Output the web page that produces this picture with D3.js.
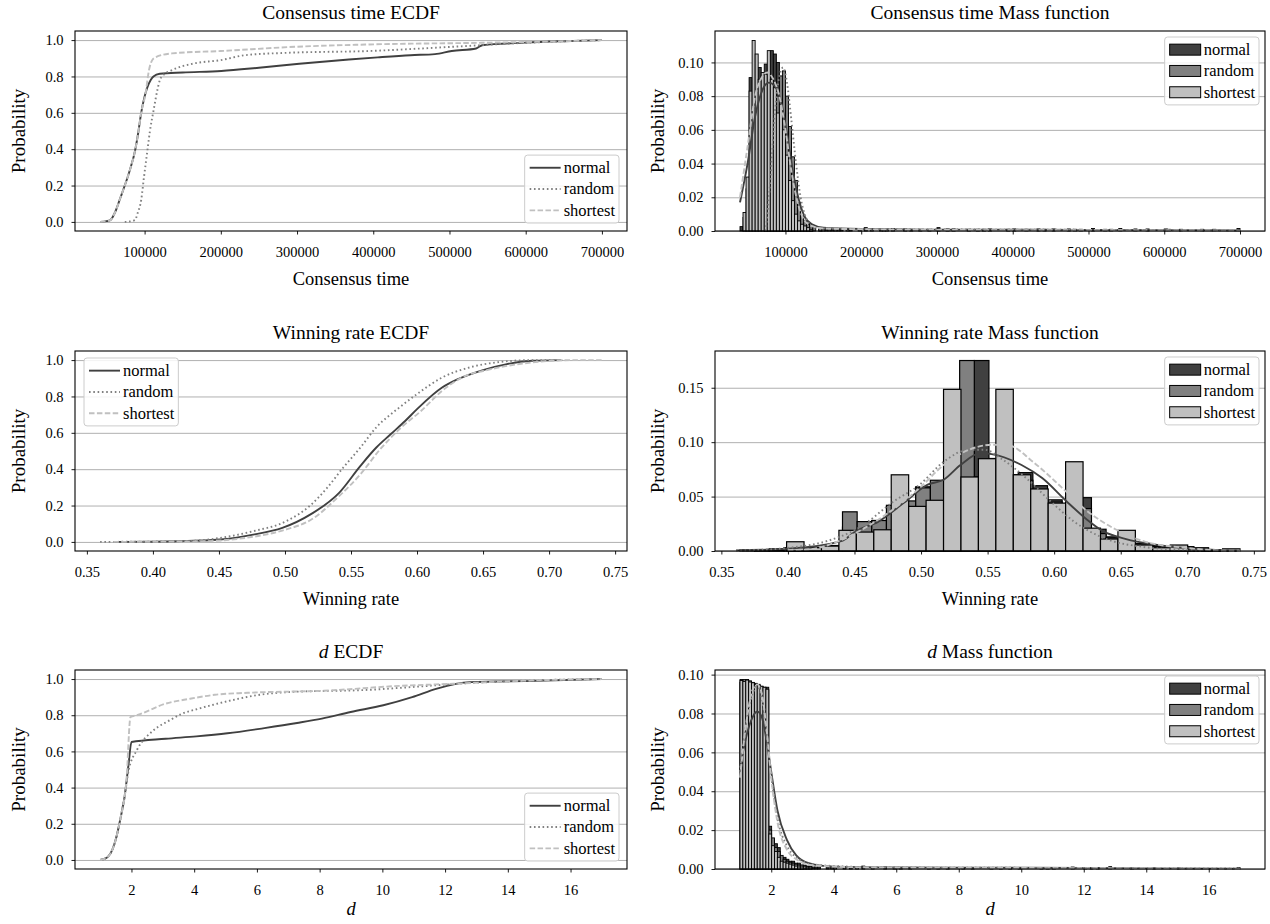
<!DOCTYPE html>
<html>
<head>
<meta charset="utf-8">
<script src="https://cdn.jsdelivr.net/npm/d3@7"></script>
<style>
  body { margin: 0; background: #fff; }
  text { font-family: "Liberation Serif", "Times New Roman", serif; fill: #000; }
</style>
</head>
<body>
<div id="chart"></div>
<script>
// ---- data ----
var seriesNames = ["normal", "random", "shortest"];

// Consensus time ECDF  [time, probability]
var timeEcdfNormal = [[41600,0],[50000,0.004],[55000,0.01],[62000,0.06],[68000,0.13],[74000,0.2],[81000,0.29],[87400,0.39],[92000,0.5],[95500,0.6],[100000,0.69],[103600,0.74],[108000,0.78],[111600,0.8],[120000,0.815],[150000,0.822],[200600,0.83],[250000,0.848],[303000,0.87],[368000,0.893],[406000,0.905],[449000,0.917],[481000,0.923],[503000,0.94],[535000,0.954],[543000,0.972],[599000,0.986],[650000,0.994],[700000,1.0]];
var timeEcdfRandom = [[74000,0],[80000,0.002],[87400,0.01],[91000,0.05],[95500,0.12],[99000,0.24],[103600,0.39],[107000,0.5],[111600,0.61],[117000,0.73],[120000,0.78],[124000,0.805],[136000,0.835],[163000,0.87],[200000,0.89],[232000,0.917],[287000,0.93],[395000,0.94],[503000,0.963],[610000,0.987],[700000,1.0]];
var timeEcdfShortest = [[41600,0],[50000,0.004],[55000,0.01],[62000,0.06],[68000,0.13],[74000,0.2],[81000,0.29],[87400,0.39],[92000,0.5],[95500,0.6],[101000,0.7],[106000,0.84],[110000,0.89],[114000,0.905],[136000,0.927],[200000,0.94],[297000,0.963],[395000,0.976],[555000,0.986],[650000,0.994],[700000,1.0]];

// Winning rate ECDF
var winEcdfNormal = [[0.37,0],[0.42,0.004],[0.451,0.013],[0.476,0.04],[0.498,0.077],[0.52,0.154],[0.541,0.27],[0.557,0.417],[0.569,0.518],[0.58,0.592],[0.591,0.665],[0.60,0.73],[0.619,0.849],[0.631,0.895],[0.65,0.945],[0.668,0.978],[0.687,0.996],[0.709,1.0]];
var winEcdfRandom = [[0.36,0],[0.4235,0.004],[0.451,0.022],[0.476,0.059],[0.501,0.114],[0.52,0.206],[0.532,0.298],[0.544,0.408],[0.557,0.518],[0.569,0.629],[0.585,0.73],[0.60,0.813],[0.619,0.904],[0.64,0.96],[0.662,0.989],[0.687,1.0],[0.71,1.0]];
var winEcdfShortest = [[0.37,0],[0.439,0.004],[0.47,0.022],[0.498,0.0625],[0.52,0.123],[0.541,0.252],[0.557,0.371],[0.572,0.509],[0.588,0.629],[0.603,0.72],[0.619,0.831],[0.634,0.904],[0.656,0.95],[0.687,0.987],[0.718,1.0],[0.74,1.0]];

// d ECDF
var dEcdfNormal = [[1.0,0],[1.1,0.004],[1.25,0.017],[1.4,0.06],[1.52,0.127],[1.65,0.23],[1.78,0.348],[1.91,0.532],[2.0,0.652],[3.09,0.67],[4.07,0.683],[5.06,0.70],[6.24,0.729],[7.28,0.757],[8.07,0.781],[8.99,0.818],[10.03,0.855],[10.95,0.90],[11.74,0.947],[12.79,0.983],[14.88,0.99],[17,1.0]];
var dEcdfRandom = [[1.0,0],[1.1,0.004],[1.25,0.017],[1.4,0.06],[1.52,0.127],[1.65,0.23],[1.78,0.35],[1.91,0.495],[2.17,0.606],[2.7,0.716],[3.22,0.772],[3.61,0.808],[4.14,0.836],[5.18,0.882],[5.97,0.91],[7.0,0.928],[9.64,0.941],[10.95,0.956],[12.79,0.978],[14.88,0.993],[17,1.0]];
var dEcdfShortest = [[1.0,0],[1.1,0.004],[1.25,0.017],[1.4,0.06],[1.52,0.127],[1.65,0.23],[1.84,0.44],[1.97,0.79],[2.17,0.80],[3.09,0.864],[3.87,0.891],[4.66,0.913],[5.71,0.924],[8.33,0.937],[10.29,0.96],[12.26,0.974],[14.88,0.993],[17,1.0]];

// Consensus time mass function: bins of 4000 starting at 40000, plus sparse tail bars [binStart, p]
var timeBinStart = 40000, timeBinWidth = 4000;
var timeHistNormal = [0.0026,0.008,0.025,0.091,0.08,0.085,0.097,0.092,0.099,0.095,0.107,0.105,0.10,0.087,0.084,0.07,0.055,0.03,0.02,0.012,0.008,0.0055,0.0045,0.002];
var timeHistRandom = [0,0,0,0,0,0,0,0,0.001,0.008,0.03,0.055,0.08,0.092,0.095,0.08,0.062,0.044,0.03,0.017,0.009,0.006,0.004,0.003,0.002];
var timeHistShortest = [0,0.011,0.032,0.083,0.113,0.105,0.09,0.094,0.093,0.107,0.09,0.085,0.07,0.075,0.06,0.045,0.03,0.018,0.01,0.006,0.004,0.003,0.002,0.001];
var timeTailNormal = [[144000,0.002],[152000,0.0015],[160000,0.001],[172000,0.0012],[184000,0.001],[204000,0.002],[224000,0.001],[240000,0.0015],[264000,0.001],[300000,0.002],[340000,0.001],[368000,0.0012],[416000,0.001],[452000,0.0012],[480000,0.001],[504000,0.0015],[540000,0.0015],[600000,0.0012],[696000,0.0015]];
var timeTailRandom = [[144000,0.0018],[156000,0.0012],[168000,0.001],[196000,0.0012],[228000,0.001],[256000,0.0012],[288000,0.001],[320000,0.0012],[360000,0.001],[400000,0.0012],[440000,0.001],[472000,0.0012],[520000,0.001],[560000,0.0012],[604000,0.001],[648000,0.001]];
var timeTailShortest = [[148000,0.001],[164000,0.0012],[180000,0.001],[212000,0.0012],[232000,0.001],[276000,0.001],[312000,0.0012],[352000,0.001],[392000,0.001],[432000,0.0012],[488000,0.001],[528000,0.001],[576000,0.0012],[620000,0.001],[664000,0.001]];
var timeKdeNormal = [[40000,0.017],[50000,0.04],[60000,0.068],[70000,0.084],[78000,0.088],[86000,0.086],[95000,0.075],[103000,0.055],[110000,0.035],[118000,0.018],[126000,0.008],[135000,0.004],[150000,0.002],[200000,0.0012],[300000,0.0008],[400000,0.0008],[500000,0.0006],[600000,0.0005],[700000,0.0003]];
var timeKdeRandom = [[74000,0.0],[80000,0.03],[86000,0.07],[92000,0.092],[97000,0.097],[102000,0.088],[108000,0.065],[114000,0.04],[120000,0.02],[127000,0.008],[135000,0.003],[150000,0.0015],[250000,0.001],[400000,0.0008],[550000,0.0006],[700000,0.0003]];
var timeKdeShortest = [[40000,0.02],[50000,0.05],[60000,0.08],[70000,0.092],[76000,0.094],[84000,0.09],[92000,0.08],[100000,0.06],[108000,0.035],[116000,0.017],[124000,0.007],[134000,0.003],[150000,0.0015],[250000,0.0008],[400000,0.0005],[550000,0.0004],[700000,0.0002]];

// Winning rate mass function (normal/random share 0.011 bins from 0.364, shortest 0.0131 bins from 0.399)
var winBinStartNR = 0.364, winBinWidthNR = 0.011;
var winBinStartS = 0.399, winBinWidthS = 0.0131;
var winHistNormal = [0.001,0.001,0.002,0.003,0.002,0.003,0.005,0.022,0.026,0.028,0.035,0.045,0.059,0.055,0.065,0.075,0.175,0.085,0.07,0.072,0.06,0.047,0.042,0.049,0.02,0.013,0.01,0.007,0.005,0.004,0.004,0.003,0.001,0.001];
var winHistRandom = [0,0.001,0.001,0.002,0.003,0.003,0.005,0.036,0.027,0.028,0.042,0.046,0.058,0.065,0.06,0.175,0.068,0.08,0.07,0.065,0.05,0.045,0.04,0.039,0.016,0.012,0.006,0.005,0.004,0.003,0.002,0.001,0.001,0];
var winHistShortest = [0.0085,0.003,0.0045,0.019,0.0174,0.0195,0.070,0.041,0.0466,0.1485,0.068,0.0848,0.1485,0.070,0.057,0.044,0.082,0.021,0.011,0.019,0.0055,0.003,0.0055,0.0015,0.001,0.002];
var winKdeNormal = [[0.361,0.0006],[0.40,0.002],[0.44,0.009],[0.4508,0.018],[0.468,0.027],[0.4868,0.044],[0.505,0.061],[0.517,0.0655],[0.5296,0.079],[0.545,0.09],[0.553,0.089],[0.5755,0.079],[0.591,0.067],[0.609,0.046],[0.6245,0.029],[0.637,0.018],[0.652,0.0116],[0.683,0.0046],[0.713,0.0015],[0.74,0.0003]];
var winKdeRandom = [[0.361,0.0003],[0.401,0.003],[0.429,0.009],[0.453,0.021],[0.48,0.046],[0.499,0.061],[0.517,0.082],[0.536,0.093],[0.548,0.093],[0.56,0.085],[0.579,0.067],[0.597,0.046],[0.615,0.027],[0.637,0.012],[0.667,0.0037],[0.698,0.001],[0.71,0.0005]];
var winKdeShortest = [[0.40,0.0008],[0.416,0.0015],[0.438,0.009],[0.456,0.02],[0.481,0.04],[0.499,0.058],[0.517,0.079],[0.536,0.093],[0.554,0.0976],[0.566,0.097],[0.584,0.082],[0.606,0.058],[0.6245,0.037],[0.646,0.02],[0.667,0.009],[0.698,0.003],[0.722,0.0006],[0.74,0.0002]];

// d mass function: bins of 0.092 starting at 1.0, plus sparse tail bars
var dBinStart = 1.0, dBinWidth = 0.092;
var dHistNormal = [0.0975,0.097,0.0975,0.0965,0.096,0.0955,0.095,0.094,0.0935,0.0935,0.022,0.015,0.013,0.011,0.006,0.006,0.005,0.004,0.004,0.003,0.003,0.002,0.002,0.0015,0.0015,0.001,0.001,0.001];
var dHistRandom = [0.096,0.0975,0.097,0.0968,0.0955,0.095,0.094,0.0935,0.093,0.092,0.02,0.016,0.011,0.009,0.007,0.005,0.004,0.0035,0.003,0.0025,0.002,0.002,0.0015,0.001,0.001];
var dHistShortest = [0.097,0.0965,0.0972,0.0962,0.0958,0.095,0.0945,0.094,0.0935,0.0925,0.018,0.012,0.009,0.006,0.004,0.0035,0.003,0.0025,0.002,0.0015,0.001,0.001];
var dTailNormal = [[3.76,0.001],[4.5,0.0012],[4.9,0.0015],[5.6,0.001],[6.4,0.0008],[7.3,0.0008],[8.1,0.0008],[9.0,0.0008],[9.9,0.0008],[10.8,0.0008],[11.6,0.001],[12.4,0.0008],[12.8,0.0012]];
var dTailRandom = [[3.9,0.001],[4.3,0.001],[5.2,0.0008],[6.1,0.0008],[7.0,0.0008],[8.4,0.0006],[9.6,0.0008],[11.0,0.0006],[12.2,0.0006],[13.5,0.0005],[15.0,0.0005]];
var dTailShortest = [[4.0,0.0008],[4.7,0.001],[5.9,0.0008],[7.6,0.0006],[9.3,0.0006],[10.6,0.0006],[12.0,0.0005],[14.2,0.0005],[16.908,0.0008]];
var dKdeNormal = [[1.0,0.052],[1.2,0.068],[1.4,0.078],[1.55,0.081],[1.7,0.078],[1.85,0.066],[2.0,0.05],[2.2,0.03],[2.5,0.015],[2.8,0.007],[3.2,0.003],[4,0.0012],[6,0.0008],[9,0.0007],[12,0.0006],[14,0.0003],[17,0.0001]];
var dKdeRandom = [[1.0,0.05],[1.2,0.075],[1.4,0.09],[1.55,0.094],[1.7,0.088],[1.85,0.07],[2.0,0.048],[2.2,0.026],[2.5,0.012],[2.8,0.006],[3.3,0.0025],[4.5,0.0012],[6,0.0008],[10,0.0006],[13,0.0005],[17,0.0002]];
var dKdeShortest = [[1.0,0.047],[1.2,0.075],[1.4,0.092],[1.55,0.095],[1.7,0.09],[1.85,0.072],[2.0,0.047],[2.2,0.024],[2.5,0.01],[2.8,0.005],[3.3,0.002],[5,0.0008],[8,0.0006],[12,0.0004],[17,0.0001]];

// tick values
var probTicks = [0, 0.2, 0.4, 0.6, 0.8, 1.0];
var timeTicks = [100000, 200000, 300000, 400000, 500000, 600000, 700000];
var winTicks = [0.35, 0.40, 0.45, 0.50, 0.55, 0.60, 0.65, 0.70, 0.75];
var dTicks = [2, 4, 6, 8, 10, 12, 14, 16];
var timeMassTicks = [0, 0.02, 0.04, 0.06, 0.08, 0.10];
var winMassTicks = [0, 0.05, 0.10, 0.15];
var dMassTicks = [0, 0.02, 0.04, 0.06, 0.08, 0.10];

// ---- layout ----
var svgWidth = 1270, svgHeight = 924;
var fontFam = '"Liberation Serif", "Times New Roman", serif';
var colors = { normal: "#404040", random: "#808080", shortest: "#c0c0c0" };
var dashes = { normal: null, random: "1.6,2.7", shortest: "5.5,2.4" };

var leftCol = [75, 627], rightCol = [715, 1265];
// [top, bottom, x-label offset]
var rows = [[31, 231, 54], [351, 551, 54], [670, 869, 46]];

var svg = d3.select("#chart").append("svg")
  .attr("width", svgWidth)
  .attr("height", svgHeight);

svg.append("rect").attr("width", svgWidth).attr("height", svgHeight).attr("fill", "#fff");

function padDomain(lo, hi) {
  var s = (hi - lo) * 0.05;
  return [lo - s, hi + s];
}

function setupPanel(col, row, xDomain, yDomain) {
  var p = { x0: col[0], x1: col[1], y0: row[0], y1: row[1], xlOff: row[2] };
  p.x = d3.scaleLinear().domain(xDomain).range([p.x0, p.x1]);
  p.y = d3.scaleLinear().domain(yDomain).range([p.y1, p.y0]);
  p.g = svg.append("g");
  p.grid = p.g.append("g");
  p.marks = p.g.append("g");
  p.top = p.g.append("g");
  return p;
}

function drawGrid(p, yTicks) {
  p.grid.attr("transform", "translate(" + p.x0 + ",0)")
    .call(d3.axisLeft(p.y).tickValues(yTicks).tickSize(-(p.x1 - p.x0)).tickFormat(""))
    .call(function(g) { g.select(".domain").remove(); });
  p.grid.selectAll("line").attr("stroke", "#b0b0b0").attr("stroke-width", 1);
}

function addRichText(sel, parts) {
  parts.forEach(function(pt) {
    sel.append("tspan").attr("font-style", pt[1] ? "italic" : null).text(pt[0]);
  });
}

function drawAxes(p, xTicks, xFmt, yTicks, yFmt, title, xlabel, ylabelX) {
  p.top.append("rect")
    .attr("x", p.x0).attr("y", p.y0)
    .attr("width", p.x1 - p.x0).attr("height", p.y1 - p.y0)
    .attr("fill", "none").attr("stroke", "#000").attr("stroke-width", 1.1);

  var xa = p.top.append("g")
    .attr("transform", "translate(0," + p.y1 + ")")
    .call(d3.axisBottom(p.x).tickValues(xTicks).tickFormat(xFmt).tickSize(3.5).tickSizeOuter(0).tickPadding(12.5));
  var ya = p.top.append("g")
    .attr("transform", "translate(" + p.x0 + ",0)")
    .call(d3.axisLeft(p.y).tickValues(yTicks).tickFormat(yFmt).tickSize(3.5).tickSizeOuter(0).tickPadding(8));
  [xa, ya].forEach(function(a) {
    a.attr("font-family", fontFam).attr("font-size", 14.5);
    a.select(".domain").remove();
    a.selectAll("line").attr("stroke", "#000").attr("stroke-width", 0.9);
  });

  var cx = (p.x0 + p.x1) / 2;
  var t = p.top.append("text")
    .attr("x", cx).attr("y", p.y0 - 12)
    .attr("text-anchor", "middle")
    .style("font-size", "19.5px");
  addRichText(t, title);

  var xl = p.top.append("text")
    .attr("x", cx).attr("y", p.y1 + p.xlOff)
    .attr("text-anchor", "middle")
    .style("font-size", "18.5px");
  addRichText(xl, xlabel);

  p.top.append("text")
    .attr("transform", "translate(" + ylabelX + "," + ((p.y0 + p.y1) / 2) + ") rotate(-90)")
    .attr("text-anchor", "middle")
    .attr("dy", "0.35em")
    .style("font-size", "19px")
    .text("Probability");
}

function drawLines(p, seriesData, curve) {
  var line = d3.line()
    .x(function(d) { return p.x(d[0]); })
    .y(function(d) { return p.y(d[1]); })
    .curve(curve || d3.curveMonotoneX);
  seriesNames.forEach(function(name) {
    p.marks.append("path")
      .datum(seriesData[name])
      .attr("d", line)
      .attr("fill", "none")
      .attr("stroke", colors[name])
      .attr("stroke-width", 1.9)
      .attr("stroke-dasharray", dashes[name]);
  });
}

function binsFrom(start, width, values, tail) {
  var bars = values.map(function(v, i) {
    return { x0: start + i * width, x1: start + (i + 1) * width, h: v };
  });
  (tail || []).forEach(function(t) {
    bars.push({ x0: t[0], x1: t[0] + width, h: t[1] });
  });
  return bars.filter(function(b) { return b.h > 0; });
}

function drawBars(p, bars, name, sw) {
  p.marks.append("g").selectAll("rect")
    .data(bars)
    .enter()
    .append("rect")
    .attr("x", function(b) { return p.x(b.x0); })
    .attr("width", function(b) { return p.x(b.x1) - p.x(b.x0); })
    .attr("y", function(b) { return p.y(b.h); })
    .attr("height", function(b) { return p.y(0) - p.y(b.h); })
    .attr("fill", colors[name])
    .attr("stroke", "#000")
    .attr("stroke-width", sw);
}

function drawLegend(p, kind, corner) {
  var rowH = 21.3, handleW = 31, padX = 5;
  var lg = p.top.append("g");
  var box = lg.append("rect");
  var maxW = 0;
  seriesNames.forEach(function(name, i) {
    var gi = lg.append("g").attr("transform", "translate(0," + (i * rowH) + ")");
    if (kind === "line") {
      gi.append("line")
        .attr("x1", padX).attr("x2", padX + handleW)
        .attr("y1", 0).attr("y2", 0)
        .attr("stroke", colors[name]).attr("stroke-width", 1.9)
        .attr("stroke-dasharray", dashes[name]);
    } else {
      gi.append("rect")
        .attr("x", padX).attr("y", -5.5)
        .attr("width", handleW).attr("height", 11)
        .attr("fill", colors[name]).attr("stroke", "#000").attr("stroke-width", 1);
    }
    var tx = gi.append("text")
      .attr("x", padX + handleW + 3).attr("y", 0)
      .attr("dy", "0.32em")
      .style("font-size", "16.5px")
      .text(name);
    maxW = Math.max(maxW, tx.node().getComputedTextLength());
  });
  var w = padX + handleW + 3 + maxW + 4;
  var h = rowH * 3 + 4;
  var bx, by;
  if (corner === "ur") { bx = p.x1 - 6 - w; by = p.y0 + 6; }
  else if (corner === "lr") { bx = p.x1 - 8 - w; by = p.y1 - 8 - h; }
  else { bx = p.x0 + 9; by = p.y0 + 7; }
  box.attr("x", 0).attr("y", -rowH / 2 - 2).attr("width", w).attr("height", h)
    .attr("rx", 3).attr("fill", "#fff").attr("fill-opacity", 0.85)
    .attr("stroke", "#cccccc").attr("stroke-width", 1);
  lg.attr("transform", "translate(" + bx + "," + (by + rowH / 2 + 2) + ")");
}

function ecdfPanel(col, row, series, xTicks, xFmt, title, xlabel, ylabelX, corner) {
  var all = seriesNames.reduce(function(a, n) { return a.concat(series[n]); }, []);
  var ext = d3.extent(all, function(d) { return d[0]; });
  var p = setupPanel(col, row, padDomain(ext[0], ext[1]), [-0.05, 1.05]);
  drawGrid(p, probTicks);
  drawLines(p, series);
  drawAxes(p, xTicks, xFmt, probTicks, d3.format(".1f"), title, xlabel, ylabelX);
  drawLegend(p, "line", corner);
}

function massPanel(col, row, bars, kdes, xTicks, xFmt, yTicks, title, xlabel, ylabelX, sw) {
  var allBars = seriesNames.reduce(function(a, n) { return a.concat(bars[n]); }, []);
  var lo = d3.min(allBars, function(b) { return b.x0; });
  var hi = d3.max(allBars, function(b) { return b.x1; });
  var ymax = d3.max(allBars, function(b) { return b.h; });
  var p = setupPanel(col, row, padDomain(lo, hi), [0, ymax * 1.05]);
  drawGrid(p, yTicks);
  seriesNames.forEach(function(n) { drawBars(p, bars[n], n, sw); });
  drawLines(p, kdes);
  drawAxes(p, xTicks, xFmt, yTicks, d3.format(".2f"), title, xlabel, ylabelX);
  drawLegend(p, "patch", "ur");
}

// ---- ECDF panels ----
ecdfPanel(leftCol, rows[0],
  { normal: timeEcdfNormal, random: timeEcdfRandom, shortest: timeEcdfShortest },
  timeTicks, d3.format("d"), [["Consensus time ECDF", false]], [["Consensus time", false]], 18, "lr");

ecdfPanel(leftCol, rows[1],
  { normal: winEcdfNormal, random: winEcdfRandom, shortest: winEcdfShortest },
  winTicks, d3.format(".2f"), [["Winning rate ECDF", false]], [["Winning rate", false]], 18, "ul");

ecdfPanel(leftCol, rows[2],
  { normal: dEcdfNormal, random: dEcdfRandom, shortest: dEcdfShortest },
  dTicks, d3.format("d"), [["d", true], [" ECDF", false]], [["d", true]], 18, "lr");

// ---- mass function panels ----
massPanel(rightCol, rows[0],
  {
    normal: binsFrom(timeBinStart, timeBinWidth, timeHistNormal, timeTailNormal),
    random: binsFrom(timeBinStart, timeBinWidth, timeHistRandom, timeTailRandom),
    shortest: binsFrom(timeBinStart, timeBinWidth, timeHistShortest, timeTailShortest)
  },
  { normal: timeKdeNormal, random: timeKdeRandom, shortest: timeKdeShortest },
  timeTicks, d3.format("d"), timeMassTicks,
  [["Consensus time Mass function", false]], [["Consensus time", false]], 657, 0.9);

massPanel(rightCol, rows[1],
  {
    normal: binsFrom(winBinStartNR, winBinWidthNR, winHistNormal),
    random: binsFrom(winBinStartNR, winBinWidthNR, winHistRandom),
    shortest: binsFrom(winBinStartS, winBinWidthS, winHistShortest)
  },
  { normal: winKdeNormal, random: winKdeRandom, shortest: winKdeShortest },
  winTicks, d3.format(".2f"), winMassTicks,
  [["Winning rate Mass function", false]], [["Winning rate", false]], 657, 1.2);

massPanel(rightCol, rows[2],
  {
    normal: binsFrom(dBinStart, dBinWidth, dHistNormal, dTailNormal),
    random: binsFrom(dBinStart, dBinWidth, dHistRandom, dTailRandom),
    shortest: binsFrom(dBinStart, dBinWidth, dHistShortest, dTailShortest)
  },
  { normal: dKdeNormal, random: dKdeRandom, shortest: dKdeShortest },
  dTicks, d3.format("d"), dMassTicks,
  [["d", true], [" Mass function", false]], [["d", true]], 657, 0.9);
</script>
</body>
</html>
